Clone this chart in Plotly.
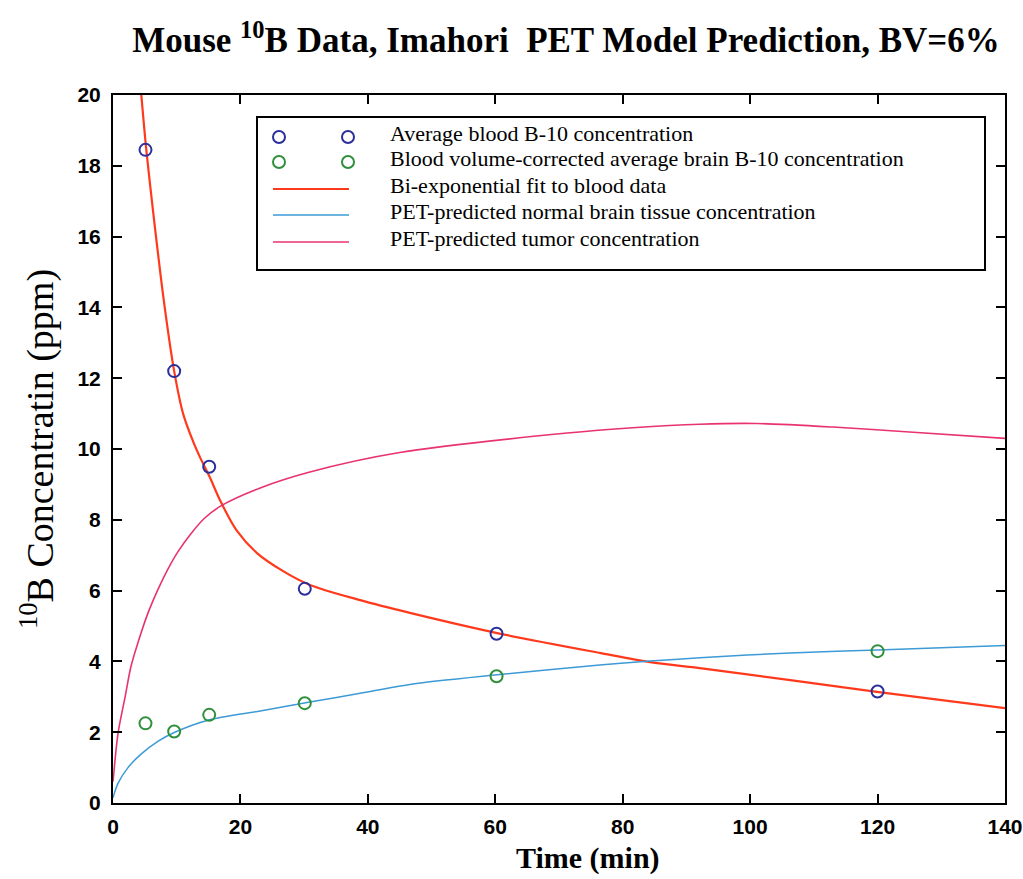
import plotly.graph_objects as go

# ---- data ----
t_data = [5.1, 9.6, 15.1, 30.1, 60.2, 120]
blood_avg = [18.45, 12.2, 9.5, 6.05, 4.78, 3.15]
brain_avg = [2.25, 2.02, 2.49, 2.82, 3.58, 4.29]

t_fit = [4.3, 5.2, 6.3, 7.9, 9.6, 11.0, 12.6, 13.7, 15.2, 16.8, 19.4, 22.6, 26.7, 30.9,
         38.8, 46.6, 60.3, 76.4, 84.3, 92.1, 106.3, 119.9, 140]
blood_fit = [20.3, 18.5, 16.7, 14.3, 12.2, 11.0, 10.2, 9.75, 9.2, 8.55, 7.7, 7.06, 6.55, 6.16,
             5.73, 5.37, 4.8, 4.24, 3.98, 3.81, 3.47, 3.14, 2.68]

t_brain = [0, 0.8, 2.35, 4.4, 7.1, 9.7, 14.9, 23.1, 30.9, 38.8, 46.6, 60.3, 76.4,
           84.3, 92.1, 106.3, 120, 140]
brain_pet = [0.15, 0.56, 1.0, 1.38, 1.75, 2.0, 2.34, 2.6, 2.85, 3.1, 3.35, 3.62, 3.9,
             4.01, 4.1, 4.24, 4.32, 4.45]

t_tumor = [0, 0.8, 1.9, 2.8, 3.9, 5.5, 7.1, 8.6, 10.2, 12.2, 14.4, 17.0, 23.1, 30.9,
           45, 71.3, 81.6, 92.1, 101, 113, 125, 140]
tumor_pet = [0.6, 1.98, 3.0, 3.84, 4.52, 5.37, 6.05, 6.6, 7.1, 7.6, 8.05, 8.4, 8.9, 9.35,
             9.9, 10.45, 10.6, 10.7, 10.72, 10.62, 10.48, 10.3]

x_ticks = [0, 20, 40, 60, 80, 100, 120, 140]
y_ticks = [0, 2, 4, 6, 8, 10, 12, 14, 16, 18, 20]

legend_labels = [
    "Average blood B-10 concentration",
    "Blood volume-corrected average brain B-10 concentration",
    "Bi-exponential fit to blood data",
    "PET-predicted normal brain tissue concentration",
    "PET-predicted tumor concentration",
]

C_BLOOD = "#2a2f9c"
C_BRAIN = "#2f8f3a"
C_FIT = "#ff3a1c"
C_PET = "#3d9ad6"
C_TUM = "#e8336f"

SERIF = "Liberation Serif, Times New Roman, serif"

fig = go.Figure()
fig.add_trace(go.Scatter(x=t_fit, y=blood_fit, mode="lines",
                         line=dict(color=C_FIT, width=2.2, shape="spline", smoothing=0.8),
                         name=legend_labels[2]))
fig.add_trace(go.Scatter(x=t_brain, y=brain_pet, mode="lines",
                         line=dict(color=C_PET, width=1.5, shape="spline", smoothing=0.8),
                         name=legend_labels[3]))
fig.add_trace(go.Scatter(x=t_tumor, y=tumor_pet, mode="lines",
                         line=dict(color=C_TUM, width=1.6, shape="spline", smoothing=0.8),
                         name=legend_labels[4]))
fig.add_trace(go.Scatter(x=t_data, y=blood_avg, mode="markers",
                         marker=dict(symbol="circle-open", size=12, color=C_BLOOD,
                                     line=dict(width=2)), name=legend_labels[0]))
fig.add_trace(go.Scatter(x=t_data, y=brain_avg, mode="markers",
                         marker=dict(symbol="circle-open", size=12, color=C_BRAIN,
                                     line=dict(width=2)), name=legend_labels[1]))

# ---- plot geometry (pixels) ----
W, H = 1023, 879
L, R, T, B = 113, 18, 95, 76
AX_L, AX_R, AX_T, AX_B = L, W - R, T, H - B


def px(xp):
    return (xp - AX_L) / (AX_R - AX_L)


def py(yp):
    return (AX_B - yp) / (AX_B - AX_T)


# ---- hand-built legend in MATLAB style (two markers per row) ----
shapes = []
annotations = []
shapes.append(dict(type="rect", xref="paper", yref="paper",
                   x0=px(257), x1=px(985), y0=py(270), y1=py(117),
                   line=dict(color="black", width=2), fillcolor="white", layer="above"))
row_y = [137, 162, 189, 215, 242]
kinds = [("m", C_BLOOD), ("m", C_BRAIN), ("l", C_FIT), ("l", C_PET), ("l", C_TUM)]
for ry, (k, c), lab in zip(row_y, kinds, legend_labels):
    if k == "m":
        for mx in (279, 348):
            shapes.append(dict(type="circle", xref="paper", yref="paper",
                               xsizemode="pixel", ysizemode="pixel",
                               xanchor=px(mx), yanchor=py(ry),
                               x0=-6, x1=6, y0=-6, y1=6,
                               line=dict(color=c, width=2), layer="above"))
    else:
        shapes.append(dict(type="line", xref="paper", yref="paper",
                           x0=px(273), x1=px(349), y0=py(ry), y1=py(ry),
                           line=dict(color=c, width=2 if c == C_FIT else 1.6),
                           layer="above"))
    annotations.append(dict(text=lab, xref="paper", yref="paper",
                            x=px(388), y=py(ry - 4), xanchor="left", yanchor="middle",
                            showarrow=False,
                            font=dict(family=SERIF, size=22, color="black")))

# x-axis title (placed like the original, right of centre)
annotations.append(dict(text="<b>Time (min)</b>", xref="paper", yref="paper",
                        x=px(588), y=py(858), xanchor="center", yanchor="middle",
                        showarrow=False, font=dict(family=SERIF, size=30, color="black")))

axis_common = dict(showline=True, linecolor="black", linewidth=2, mirror="ticks",
                   ticks="inside", ticklen=9, tickwidth=2, tickcolor="black",
                   showgrid=False, zeroline=False, automargin=False,
                   ticklabeloverflow="allow",
                   tickfont=dict(family="Liberation Sans Narrow, Liberation Sans, Arial",
                                 size=21, color="black", weight="bold"))

fig.update_layout(
    width=W, height=H, autosize=False,
    margin=dict(l=L, r=R, t=T, b=B, autoexpand=False),
    paper_bgcolor="white", plot_bgcolor="white",
    showlegend=False,
    title=dict(text="Mouse <sup>10</sup>B Data, Imahori\u00a0 PET Model Prediction, BV=6%",
               x=566 / W, xanchor="center", y=1 - 40 / H, yanchor="middle",
               font=dict(family=SERIF, size=35, color="black", weight="bold")),
    xaxis=dict(range=[0, 140], tickvals=x_ticks, ticklabelstandoff=4, **axis_common),
    yaxis=dict(range=[0, 20], tickvals=y_ticks, ticklabelstandoff=6,
               title=dict(text="<sup>10</sup>B Concentratin (ppm)", standoff=12,
                          font=dict(family=SERIF, size=38, color="black")),
               **axis_common),
    shapes=shapes,
    annotations=annotations,
)

fig.write_html("out.html")
